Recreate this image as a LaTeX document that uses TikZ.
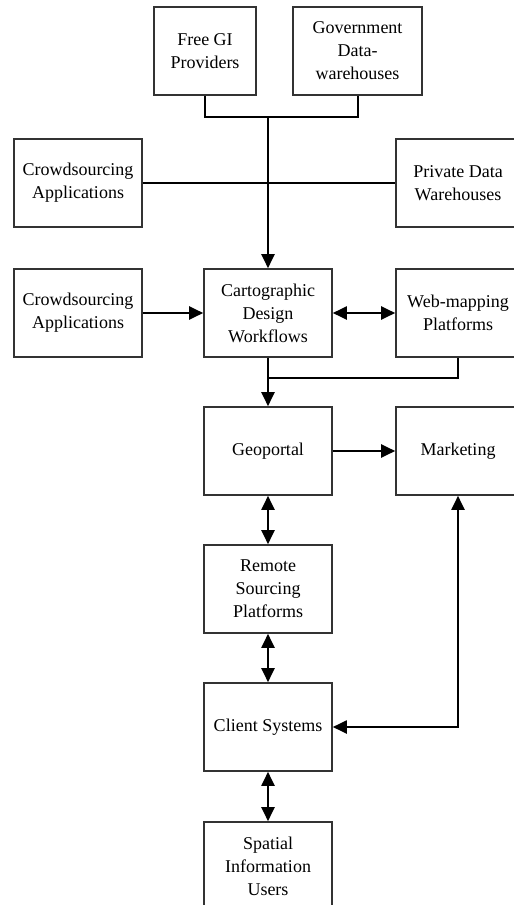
\documentclass[tikz,border=0pt]{standalone}
\usepackage{fontspec}
\setmainfont{Liberation Serif}
\usetikzlibrary{arrows.meta}
\begin{document}
\begin{tikzpicture}[x=1pt,y=-1pt,
  box/.style={draw=black!80,line width=1.6pt,rectangle,align=center,
    minimum height=88pt,inner sep=2pt,
    font=\fontsize{18}{23}\selectfont},
  wide/.style={box,minimum width=128pt},
  link/.style={draw=black,line width=2pt},
  tip/.style={-{Triangle[length=14pt,width=13pt]}},
  both/.style={{Triangle[length=14pt,width=13pt]}-{Triangle[length=14pt,width=13pt]}}]
\useasboundingbox (0,0) rectangle (514,905);
% data sources
\node[box,minimum width=102pt] (free) at (205,51) {Free GI\\Providers};
\node[box,minimum width=129pt] (gov) at (357.5,51) {Government\\Data-\\warehouses};
\node[wide] (crowdA) at (78,183) {Crowdsourcing\\Applications};
\node[box,minimum width=124pt] (priv) at (458,183) {Private Data\\Warehouses};
% design stage
\node[wide] (crowdB) at (78,313) {Crowdsourcing\\Applications};
\node[wide] (carto) at (268,313) {Cartographic\\Design\\Workflows};
\node[box,minimum width=124pt] (web) at (458,313) {Web-mapping\\Platforms};
% distribution chain
\node[wide] (geo) at (268,451) {Geoportal};
\node[box,minimum width=124pt] (mkt) at (458,451) {Marketing};
\node[wide] (remote) at (268,589) {Remote\\Sourcing\\Platforms};
\node[wide] (client) at (268,727) {Client Systems};
\node[wide] (spatial) at (268,866) {Spatial\\Information\\Users};
% junctions
\coordinate (top) at (268,117);
\coordinate (merge) at (268,378);
% connectors
\draw[link] (free.south) |- (top) -| (gov.south);
\draw[link] (crowdA.east) -- (priv.west);
\draw[link,tip] (top) -- (carto.north);
\draw[link,tip] (crowdB.east) -- (carto.west);
\draw[link,both] (carto.east) -- (web.west);
\draw[link] (web.south) |- (merge);
\draw[link,tip] (carto.south) -- (geo.north);
\draw[link,tip] (geo.east) -- (mkt.west);
\draw[link,both] (geo.south) -- (remote.north);
\draw[link,both] (remote.south) -- (client.north);
\draw[link,both] (client.south) -- (spatial.north);
\draw[link,both] (mkt.south) |- (client.east);
\end{tikzpicture}
\end{document}
